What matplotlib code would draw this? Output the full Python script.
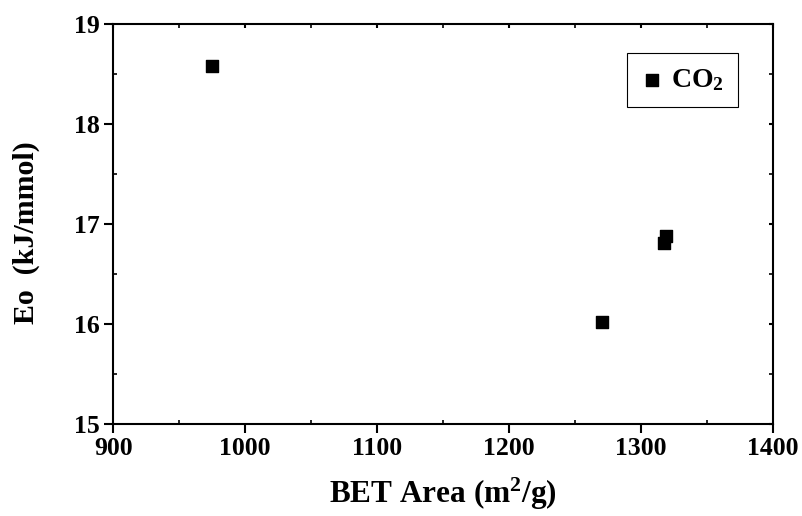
import numpy as np
import matplotlib
matplotlib.use('Agg')
import matplotlib.pyplot as plt
from matplotlib.ticker import MultipleLocator

# BET surface area vs adsorption energy
bet_area = [975, 1270, 1317, 1319]
eo = [18.58, 16.02, 16.81, 16.88]

plt.rcParams['font.family'] = ['Liberation Serif', 'DejaVu Serif']
plt.rcParams['font.weight'] = 'bold'
plt.rcParams['mathtext.fontset'] = 'custom'
plt.rcParams['mathtext.rm'] = 'Liberation Serif:bold'
plt.rcParams['mathtext.it'] = 'Liberation Serif:bold'
plt.rcParams['mathtext.bf'] = 'Liberation Serif:bold'

fig = plt.figure(figsize=(8.02, 5.16), dpi=100)
ax = fig.add_axes([0.141, 0.178, 0.823, 0.775])

ax.scatter(bet_area, eo, marker='s', s=85, color='black', label='CO$_\\mathbf{2}$', zorder=3)

ax.set_xlim(900, 1400)
ax.set_ylim(15, 19)
ax.xaxis.set_major_locator(MultipleLocator(100))
ax.xaxis.set_minor_locator(MultipleLocator(50))
ax.yaxis.set_major_locator(MultipleLocator(1))
ax.yaxis.set_minor_locator(MultipleLocator(0.5))

for s in ax.spines.values():
    s.set_linewidth(1.5)

ax.tick_params(which='major', direction='out', length=6.5, width=1.5, labelsize=18.5, pad=3)
ax.tick_params(which='minor', direction='in', length=3, width=1.2)
ax.tick_params(which='both', top=True, right=True)
# top/right ticks point inward like the original
for t in ax.xaxis.get_major_ticks():
    t.tick2line.set_marker(3)
    t.tick2line.set_markersize(3)
for t in ax.yaxis.get_major_ticks():
    t.tick2line.set_marker(0)
    t.tick2line.set_markersize(3)

ax.set_xlabel('BET Area (m$^\\mathbf{2}$/g)', fontsize=22.5, fontweight='bold', labelpad=11)
ax.set_ylabel('Eo  (kJ/mmol)', fontsize=21.5, fontweight='bold')
ax.yaxis.set_label_coords(-0.111, 0.48)

leg = ax.legend(loc='upper right', bbox_to_anchor=(0.947, 0.9275), fontsize=20,
                fancybox=False, edgecolor='black', framealpha=1,
                handletextpad=0.3, handlelength=0.8, borderpad=0.5,
                borderaxespad=0, markerscale=0.95)
leg.get_frame().set_linewidth(0.8)

fig.savefig('out.png', dpi=100)
